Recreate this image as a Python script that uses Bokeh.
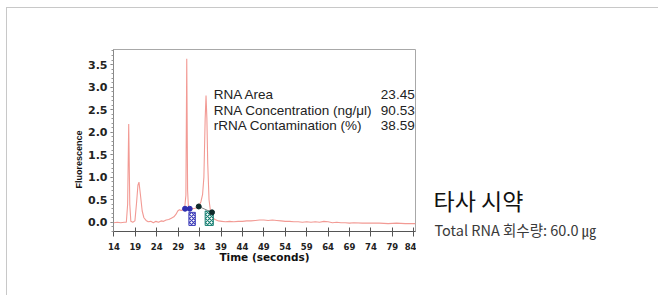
from bokeh.plotting import figure
from bokeh.models import Range1d, FixedTicker, Label, Title
from bokeh.layouts import row
from bokeh.embed import file_html
from bokeh.resources import INLINE

# ---- data ----
time_s = [14.0, 14.8, 15.6, 16.4, 16.9, 17.2, 17.45, 17.7, 17.95, 18.4, 18.9, 19.3, 19.6, 19.85,
          20.2, 20.6, 21.0, 21.5, 22.0, 22.6, 23.2, 23.8, 24.4, 25.0, 25.6, 26.2, 26.8, 27.4,
          28.0, 28.5, 28.9, 29.3, 29.7, 30.1, 30.5, 30.8, 31.0, 31.2, 31.4, 31.9, 32.4, 32.9,
          33.4, 33.9, 34.3, 34.7, 35.0, 35.3, 35.5, 35.7, 35.9, 36.2, 36.6, 37.0, 37.6, 38.4,
          39.2, 40.0, 41.0, 42.0, 43.0, 44.0, 45.0, 46.0, 47.0, 48.0, 49.0, 50.0, 51.0, 52.0,
          53.0, 54.0, 55.0, 56.0, 57.0, 58.0, 59.0, 60.0, 61.0, 62.0, 63.0, 64.0, 65.0, 66.0,
          67.0, 68.0, 69.0, 70.0, 72.0, 74.0, 76.0, 78.0, 80.0, 82.0, 84.4]
fluor = [-0.01, 0.00, -0.01, 0.00, 0.00, 0.40, 2.18, 0.40, 0.02, 0.00, 0.03, 0.45, 0.82, 0.89,
         0.60, 0.25, 0.10, 0.04, 0.01, 0.02, -0.01, 0.02, 0.00, 0.03, 0.02, 0.05, 0.06, 0.09,
         0.12, 0.18, 0.25, 0.28, 0.26, 0.28, 0.30, 0.60, 3.63, 0.70, 0.32, 0.30, 0.30, 0.31,
         0.33, 0.38, 0.45, 0.62, 1.00, 2.30, 2.81, 2.30, 1.30, 0.50, 0.20, 0.10, 0.06, 0.03,
         0.02, 0.01, 0.02, 0.01, 0.02, 0.02, 0.03, 0.03, 0.04, 0.05, 0.05, 0.04, 0.05, 0.04,
         0.03, 0.02, 0.02, 0.01, 0.01, 0.00, 0.01, 0.00, 0.01, 0.00, 0.02, 0.01, -0.01, 0.00,
         -0.01, -0.01, -0.02, -0.01, -0.02, -0.02, -0.02, -0.03, -0.02, -0.03, -0.03]

x_ticks = [14, 19, 24, 29, 34, 39, 44, 49, 54, 59, 64, 69, 74, 79, 84]
y_ticks = [0.0, 0.5, 1.0, 1.5, 2.0, 2.5, 3.0, 3.5]
y_tick_labels = ["0.0", "0.5", "1.0", "1.5", "2.0", "2.5", "3.0", "3.5"]

stat_names = ["RNA Area", "RNA Concentration (ng/μl)", "rRNA Contamination (%)"]
stat_values = ["23.45", "90.53", "38.59"]
stat_rows = [2.83, 2.48, 2.14]

title_text = "타사 시약"
subtitle_text = "Total RNA 회수량: 60.0 ㎍"

# peak markers
start_t = [30.6, 31.7]
start_v = [0.30, 0.30]
end_t = [33.8, 36.9]
end_v = [0.35, 0.22]
box_left = [31.5, 35.3]
box_right = [33.0, 37.2]
box_top = [0.22, 0.25]
box_bottom = [-0.07, -0.07]
box_colors = ["#3a3ab8", "#167f72"]

p = figure(width=409, height=287, output_backend="svg", toolbar_location=None,
           x_range=Range1d(13.9, 84.4), y_range=Range1d(-0.205, 3.833),
           min_border_left=106, min_border_top=41, min_border_right=1, min_border_bottom=64)
p.frame_align = False
p.background_fill_color = "white"
p.border_fill_color = "white"
p.outline_line_color = "#a8a8a8"
p.outline_line_width = 1
p.xgrid.visible = False
p.ygrid.visible = False

# trace
p.line(time_s, fluor, line_color="#f29a94", line_width=1.1)

# markers
p.quad(left=box_left, right=box_right, top=box_top, bottom=box_bottom,
       fill_color="white", line_color=box_colors, hatch_pattern="diagonal_cross",
       hatch_color=box_colors, hatch_scale=4, hatch_weight=1.2)
p.line(end_t, end_v, line_color="#888888", line_width=1)
p.scatter(start_t, start_v, size=5, color="#2f2fb0")
p.scatter(end_t, end_v, size=5, color="#0d2a2a")

# x axis
xa = p.xaxis[0]
xa.ticker = FixedTicker(ticks=x_ticks)
xa.minor_tick_line_color = None
xa.major_tick_in = 4
xa.major_tick_out = 5
xa.major_tick_line_color = "#555555"
xa.axis_line_color = "#555555"
xa.major_label_text_font = "DejaVu Sans"
xa.major_label_text_font_style = "bold"
xa.major_label_text_font_size = "8.5px"
xa.major_label_text_color = "#222222"
xa.major_label_standoff = 6
xa.axis_label = "Time (seconds)"
xa.axis_label_text_font = "DejaVu Sans"
xa.axis_label_text_font_style = "bold"
xa.axis_label_text_font_size = "10.5px"
xa.axis_label_text_color = "#111111"
xa.axis_label_standoff = -2

# y axis
ya = p.yaxis[0]
ya.ticker = FixedTicker(ticks=y_ticks, minor_ticks=[i / 10 for i in range(-2, 39)])
ya.major_label_overrides = {t: s for t, s in zip(y_ticks, y_tick_labels)}
ya.major_tick_in = 0
ya.major_tick_out = 3
ya.minor_tick_in = 0
ya.minor_tick_out = 2
ya.major_tick_line_color = "#777777"
ya.minor_tick_line_color = "#999999"
ya.axis_line_color = "#888888"
ya.major_label_text_font = "DejaVu Sans"
ya.major_label_text_font_style = "bold"
ya.major_label_text_font_size = "11px"
ya.major_label_text_color = "#222222"
ya.major_label_standoff = 3

# y label as a side title (sits a little below the frame's middle, as in the source)
p.add_layout(Title(text="Fluorescence", align="left", offset=43, standoff=3,
                   text_font="Liberation Sans", text_font_style="bold",
                   text_font_size="9px", text_color="#111111"), "left")

# statistics text
for name, val, row_y in zip(stat_names, stat_values, stat_rows):
    p.add_layout(Label(x=37.3, y=row_y, text=name, text_font="Liberation Sans",
                       text_font_size="13.5px", text_baseline="middle", text_color="#222222"))
    p.add_layout(Label(x=84.2, y=row_y, text=val, text_font="Liberation Sans",
                       text_font_size="13.5px", text_baseline="middle", text_align="right",
                       text_color="#222222"))

# right-hand caption panel
p2 = figure(width=242, height=287, output_backend="svg", toolbar_location=None,
            x_range=Range1d(0, 242), y_range=Range1d(0, 287),
            min_border=0, x_axis_type=None, y_axis_type=None)
p2.frame_align = False
p2.outline_line_color = None
p2.xgrid.visible = False
p2.ygrid.visible = False
p2.add_layout(Label(x=17, y=95.5, text=title_text,
                    text_font="Noto Sans CJK KR", text_font_size="23px",
                    text_baseline="middle", text_color="#111111"))
p2.add_layout(Label(x=18, y=66, text=subtitle_text,
                    text_font="Noto Sans CJK KR", text_font_size="14.5px",
                    text_baseline="middle", text_color="#3a3a3a"))

layout = row(p, p2, spacing=0)
layout.margin = (8, 0, 0, 7)
layout.styles = {"outline": "1.5px solid #c8c8c8", "outline-offset": "0px"}

open("out.html", "w").write(file_html(layout, INLINE))
